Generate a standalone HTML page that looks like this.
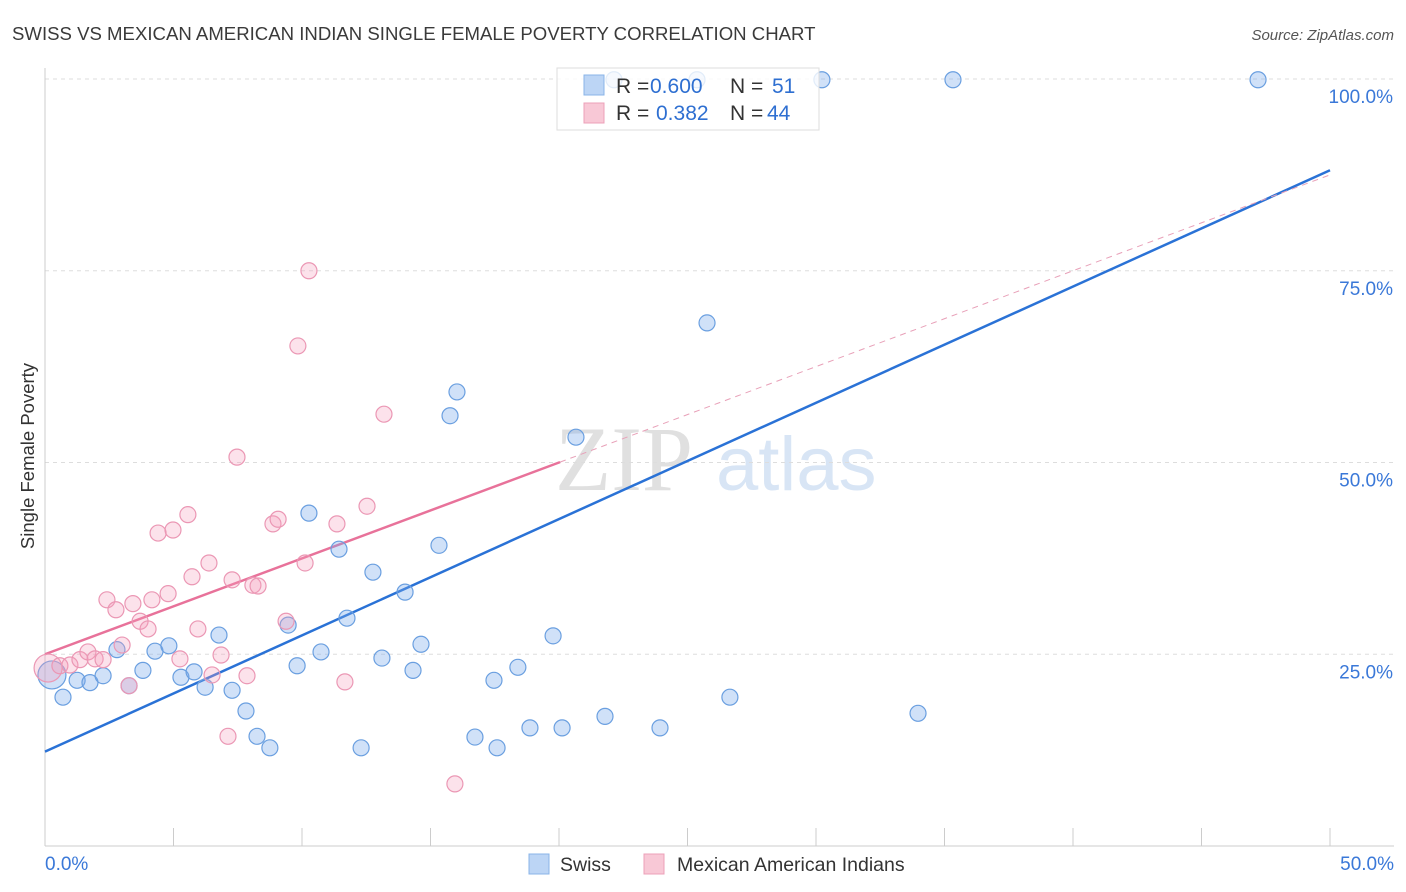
<!DOCTYPE html>
<html><head><meta charset="utf-8">
<style>
body{margin:0;background:#fff;font-family:"Liberation Sans",sans-serif;}
</style></head>
<body>
<svg id="chart" width="1406" height="892" xmlns="http://www.w3.org/2000/svg" style="display:block">
<text x="12" y="40" font-size="18.6" fill="#3a3a3a">SWISS VS MEXICAN AMERICAN INDIAN SINGLE FEMALE POVERTY CORRELATION CHART</text>
<text x="1394" y="40" font-size="15" fill="#555" font-style="italic" text-anchor="end">Source: ZipAtlas.com</text>
<text transform="translate(34,456) rotate(-90)" font-size="18.5" fill="#333" text-anchor="middle">Single Female Poverty</text>
<g>
<text x="555" y="490" font-size="92" fill="#e0e0e0" font-family="Liberation Serif,serif">ZIP</text>
<text x="716" y="490" font-size="76" fill="#d8e5f5">atlas</text>
</g>
<g id="grid"></g><g id="axes"></g><g id="lines"></g><g id="pts"></g>
<g>
<rect x="557" y="68" width="262" height="62" fill="rgba(255,255,255,0.8)" stroke="#ddd"/>
<rect x="584" y="75" width="20" height="20" fill="#bcd5f5" stroke="#8ab4e8"/>
<rect x="584" y="103" width="20" height="20" fill="#f8c8d6" stroke="#eca0b8"/>
<text x="616" y="93" font-size="21" fill="#333">R = <tspan x="650" fill="#2e6fd1">0.600</tspan><tspan x="730">N = </tspan><tspan x="772" fill="#2e6fd1">51</tspan></text>
<text x="616" y="120" font-size="21" fill="#333">R = <tspan x="656" fill="#2e6fd1">0.382</tspan><tspan x="730">N = </tspan><tspan x="767" fill="#2e6fd1">44</tspan></text>
</g>
<g>
<rect x="529" y="854" width="20" height="20" fill="#bcd5f5" stroke="#8ab4e8"/>
<text x="560" y="871" font-size="19.5" fill="#333">Swiss</text>
<rect x="644" y="854" width="20" height="20" fill="#f8c8d6" stroke="#eca0b8"/>
<text x="677" y="871" font-size="19.5" fill="#333">Mexican American Indians</text>
</g>
</svg>
<script>
const yTicks=[25,50,75,100];
const yTickLabels=["25.0%","50.0%","75.0%","100.0%"];
const xTickLabels=["0.0%","50.0%"];
const swissX=[0.27,0.70,1.25,1.75,2.26,2.80,3.27,3.81,4.28,4.82,5.29,5.80,6.23,6.77,7.28,7.82,8.25,8.75,9.46,9.81,10.27,10.74,11.44,11.75,12.30,12.76,13.11,14.01,14.32,14.63,15.33,15.76,16.03,16.73,17.47,17.59,18.40,18.87,19.77,20.12,20.66,21.79,23.93,25.76,26.65,30.23,33.97,35.33,47.2,22.14,25.37];
const swissY=[22.3,19.4,21.6,21.3,22.2,25.6,20.9,22.9,25.4,26.1,22.0,22.7,20.7,27.5,20.3,17.6,14.3,12.8,28.8,23.5,43.4,25.3,38.7,29.7,12.8,35.7,24.5,33.1,22.9,26.3,39.2,56.1,59.2,14.2,21.6,12.8,23.3,15.4,27.4,15.4,53.3,16.9,15.4,68.2,19.4,99.9,17.3,99.9,99.9,99.9,99.9];
const mexX=[0.12,0.58,0.97,1.36,1.67,1.95,2.26,2.41,2.76,3.00,3.27,3.42,3.70,4.01,4.16,4.40,4.79,4.98,5.25,5.56,5.72,5.95,6.38,6.50,6.85,7.12,7.28,7.47,7.86,8.09,8.29,8.87,9.07,9.38,9.84,10.12,10.27,11.36,11.67,12.53,13.19,15.95];
const mexY=[23.2,23.5,23.6,24.3,25.3,24.4,24.3,32.1,30.8,26.2,20.9,31.6,29.3,28.3,32.1,40.8,32.9,41.2,24.4,43.2,35.1,28.3,36.9,22.3,24.9,14.3,34.7,50.7,22.2,34.0,33.9,42.0,42.6,29.3,65.2,36.9,75.0,42.0,21.4,44.3,56.3,8.1];
const swissLine=[12.3,88.1];
const mexLine=[25.0,87.5];
const mexSolidEnd=20.04;
const X=v=>45+v*25.7, Y=v=>846-v*7.67;
const NS="http://www.w3.org/2000/svg";
function mk(t,a,p){const e=document.createElementNS(NS,t);for(const k in a)e.setAttribute(k,a[k]);p.appendChild(e);return e;}
const grid=document.getElementById('grid'),axes=document.getElementById('axes'),lines=document.getElementById('lines'),pts=document.getElementById('pts');
yTicks.forEach((t,i)=>{
 const l=mk('line',{x1:45,x2:1394,y1:Y(t),y2:Y(t),stroke:'#ddd','stroke-dasharray':'4,4'},grid);
 
 
 const tx=mk('text',{x:1393,y:Y(t)+24,'font-size':19,fill:'#3a78d8','text-anchor':'end'},grid);
 tx.textContent=yTickLabels[i];
 
 
});
const ax=mk('line',{x1:45,x2:1394,y1:846,y2:846,stroke:'#ccc'},axes);


const ay=mk('line',{x1:45,x2:45,y1:68,y2:846,stroke:'#ccc'},axes);


for(let i=0;i<=10;i++){
 const t=mk('line',{x1:X(i*5),x2:X(i*5),y1:828,y2:846,stroke:'#ccc'},axes);
 
 
}
const xl0=mk('text',{x:45,y:870,'font-size':19,fill:'#3a78d8'},axes);xl0.textContent=xTickLabels[0];


const xl1=mk('text',{x:1394,y:870,'font-size':19,fill:'#3a78d8','text-anchor':'end'},axes);xl1.textContent=xTickLabels[1];


const bl=mk('line',{x1:X(0),y1:Y(swissLine[0]),x2:X(50),y2:Y(swissLine[1]),stroke:'#2a72d6','stroke-width':2.5},lines);


const slope=(mexLine[1]-mexLine[0])/50;
const pd=mk('line',{x1:X(mexSolidEnd),y1:Y(mexLine[0]+slope*mexSolidEnd),x2:X(50),y2:Y(mexLine[1]),stroke:'#e8a0b8','stroke-width':1,'stroke-dasharray':'6,5'},lines);


const pl=mk('line',{x1:X(0),y1:Y(mexLine[0]),x2:X(mexSolidEnd),y2:Y(mexLine[0]+slope*mexSolidEnd),stroke:'#e8729a','stroke-width':2.5},lines);


swissX.forEach((x,i)=>{
 const c=mk('circle',{cx:X(x),cy:Y(swissY[i]),r:i===0?14:8,fill:'rgba(120,170,235,0.35)',stroke:'#6a9fe0','stroke-width':1.2},pts);
 
 
});
mexX.forEach((x,i)=>{
 const c=mk('circle',{cx:X(x),cy:Y(mexY[i]),r:i===0?14:8,fill:'rgba(245,160,190,0.3)',stroke:'#eb97b4','stroke-width':1.2},pts);
 
 
});
</script>
</body></html>
